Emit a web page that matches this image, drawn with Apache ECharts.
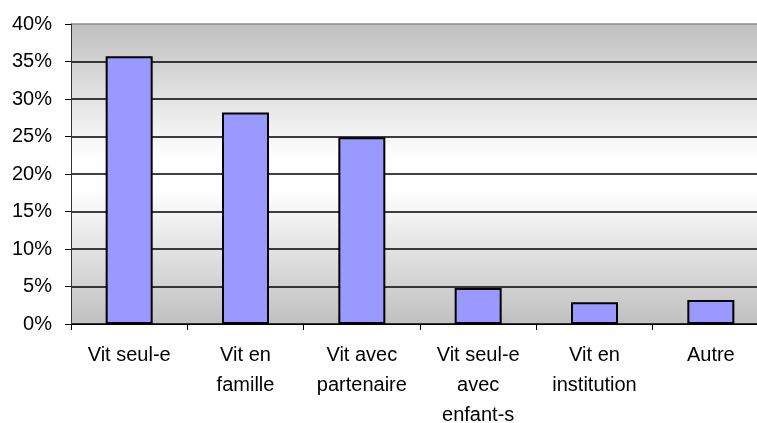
<!DOCTYPE html>
<html>
<head>
<meta charset="utf-8">
<script src="https://cdn.jsdelivr.net/npm/echarts@6/dist/echarts.min.js"></script>
<style>
  html, body { margin: 0; padding: 0; background: #fff; }
  #chart { width: 757px; height: 423px; }
</style>
</head>
<body>
<div id="chart"></div>
<script>
// catégories et valeurs (%)
const categories = ['Vit seul-e', 'Vit en\nfamille', 'Vit avec\npartenaire', 'Vit seul-e\navec\nenfant-s', 'Vit en\ninstitution', 'Autre'];
const values = [35.7, 28.2, 24.9, 4.8, 2.9, 3.2];
const yTicks = [0, 5, 10, 15, 20, 25, 30, 35, 40];

const chart = echarts.init(document.getElementById('chart'));

const option = {
  animation: false,
  grid: {
    left: 71,
    top: 24,
    right: -12,
    bottom: 99,
    outerBoundsMode: 'none',
    containLabel: false,
    show: true,
    borderWidth: 0,
    backgroundColor: new echarts.graphic.LinearGradient(0, 0, 0, 1, [
      { offset: 0, color: '#c0c0c0' },
      { offset: 0.45, color: '#ffffff' },
      { offset: 0.55, color: '#ffffff' },
      { offset: 1, color: '#c0c0c0' }
    ])
  },
  xAxis: {
    type: 'category',
    data: categories,
    axisLine: { lineStyle: { color: '#000', width: 1 } },
    axisTick: { show: true, interval: 0, length: 6, lineStyle: { color: '#000' } },
    axisLabel: {
      interval: 0,
      hideOverlap: false,
      color: '#000',
      fontFamily: 'Liberation Sans, Arial, sans-serif',
      fontSize: 20,
      lineHeight: 30,
      margin: 16
    }
  },
  yAxis: {
    type: 'value',
    min: yTicks[0],
    max: yTicks[yTicks.length - 1],
    interval: 5,
    axisLine: { show: true, lineStyle: { color: '#333', width: 1 } },
    axisTick: { show: true, length: 6, lineStyle: { color: '#000' } },
    axisLabel: {
      color: '#000',
      fontFamily: 'Liberation Sans, Arial, sans-serif',
      fontSize: 20,
      margin: 19,
      formatter: '{value}%'
    },
    splitLine: {
      show: true,
      lineStyle: {
        color: ['#000', '#000', '#000', '#000', '#000', '#000', '#000', '#000', '#888'],
        width: 1.5
      }
    }
  },
  series: [{
    type: 'bar',
    data: values,
    barWidth: 47,
    itemStyle: {
      color: '#9999ff',
      borderColor: '#000',
      borderWidth: 2
    }
  }]
};

chart.setOption(option);
</script>
</body>
</html>
